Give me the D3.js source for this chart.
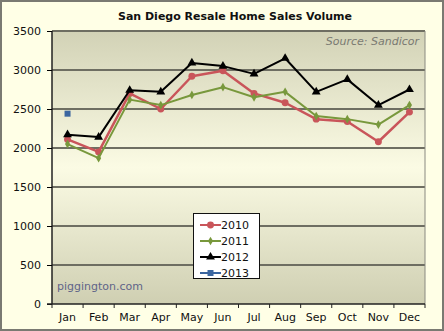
<!DOCTYPE html>
<html>
<head>
<meta charset="utf-8">
<script src="https://cdn.jsdelivr.net/npm/d3@7"></script>
<style>
  body { margin: 0; background: #fff; }
  text { font-family: "DejaVu Sans", Verdana, sans-serif; }
</style>
</head>
<body>
<svg width="444" height="331"></svg>
<script>
var months = ["Jan", "Feb", "Mar", "Apr", "May", "Jun", "Jul", "Aug", "Sep", "Oct", "Nov", "Dec"];
var years = ["2010", "2011", "2012", "2013"];
var sales2010 = [2110, 1950, 2700, 2500, 2920, 2990, 2700, 2580, 2370, 2340, 2080, 2460];
var sales2011 = [2050, 1870, 2620, 2550, 2680, 2780, 2650, 2720, 2410, 2370, 2300, 2550];
var sales2012 = [2170, 2140, 2740, 2720, 3090, 3050, 2950, 3150, 2720, 2880, 2550, 2750];
var sales2013 = [2440];
var yTicks = [0, 500, 1000, 1500, 2000, 2500, 3000, 3500];

var svg = d3.select("svg"),
    width = +svg.attr("width"),
    height = +svg.attr("height");

var margin = {top: 31, right: 19, bottom: 27, left: 52};

var x = d3.scaleBand().domain(months).range([margin.left, width - margin.right]);
var y = d3.scaleLinear().domain([0, 3500]).range([height - margin.bottom, margin.top]);

// outer frame
svg.append("rect")
    .attr("x", 1).attr("y", 1)
    .attr("width", width - 2).attr("height", height - 2)
    .attr("fill", "#ffffe6")
    .attr("stroke", "#7a7a72")
    .attr("stroke-width", 2);

var defs = svg.append("defs");
var grad = defs.append("linearGradient")
    .attr("id", "plotbg")
    .attr("x1", 0).attr("y1", 0).attr("x2", 0).attr("y2", 1);
grad.append("stop").attr("offset", "0%").attr("stop-color", "#d2d2b6");
grad.append("stop").attr("offset", "50%").attr("stop-color", "#fbfbe4");
grad.append("stop").attr("offset", "100%").attr("stop-color", "#cfcfb2");

svg.append("rect")
    .attr("x", margin.left).attr("y", margin.top)
    .attr("width", width - margin.left - margin.right)
    .attr("height", height - margin.top - margin.bottom)
    .attr("fill", "url(#plotbg)");

// gridlines
svg.append("g").selectAll("line")
    .data(yTicks.filter(function(d) { return d > 0; }))
    .enter().append("line")
    .attr("x1", margin.left).attr("x2", width - margin.right)
    .attr("y1", function(d) { return y(d); })
    .attr("y2", function(d) { return y(d); })
    .attr("stroke", "#6e6e62")
    .attr("stroke-width", 2);

// right border of plot
svg.append("line")
    .attr("x1", width - margin.right).attr("x2", width - margin.right)
    .attr("y1", margin.top).attr("y2", height - margin.bottom)
    .attr("stroke", "#8a8a80");

// axes
var yAxis = svg.append("g")
    .attr("transform", `translate(${margin.left},0)`)
    .call(d3.axisLeft(y).tickValues(yTicks).tickSize(5).tickPadding(6).tickFormat(d3.format("d")));

var xAxis = svg.append("g")
    .attr("transform", `translate(0,${height - margin.bottom})`)
    .call(d3.axisBottom(x).tickSize(0).tickPadding(9));

xAxis.selectAll(".tick line").remove();
xAxis.selectAll(".sep")
    .data(months.concat(["end"]))
    .enter().append("line")
    .attr("class", "sep")
    .attr("x1", function(d, i) { return margin.left + i * x.bandwidth(); })
    .attr("x2", function(d, i) { return margin.left + i * x.bandwidth(); })
    .attr("y1", 0).attr("y2", 4)
    .attr("stroke", "#222");

[yAxis, xAxis].forEach(function(a) {
    a.selectAll(".domain").attr("stroke", "#222").attr("stroke-width", 1.5);
    a.selectAll("text").attr("font-size", "11px").attr("fill", "#111")
        .style("font-family", "'DejaVu Sans', Verdana, sans-serif");
});
yAxis.select(".domain").attr("d", `M0,${margin.top}V${height - margin.bottom}`);
xAxis.select(".domain").attr("d", `M${margin.left - 5},0H${width - margin.right}`);

// title
svg.append("text")
    .attr("x", 235).attr("y", 20)
    .attr("text-anchor", "middle")
    .attr("font-size", "11px")
    .attr("font-weight", "bold")
    .attr("fill", "#111")
    .text("San Diego Resale Home Sales Volume");

svg.append("text")
    .attr("x", 419).attr("y", 45)
    .attr("text-anchor", "end")
    .attr("font-size", "11px")
    .attr("font-style", "italic")
    .attr("fill", "#7a7a72")
    .text("Source: Sandicor");

svg.append("text")
    .attr("x", 57).attr("y", 290)
    .attr("font-size", "11px")
    .attr("fill", "#5f6488")
    .text("piggington.com");

// series
var series = [
    {name: "2010", values: sales2010, color: "#c9555a", shape: "circle", size: 38, width: 2.5},
    {name: "2011", values: sales2011, color: "#78983c", shape: "diamond", size: 22, width: 2},
    {name: "2012", values: sales2012, color: "#000000", shape: "triangle", size: 34, width: 2},
    {name: "2013", values: sales2013, color: "#3b66a0", shape: "square", size: 36, width: 2}
];

function symbolType(s) {
    if (s === "circle") { return d3.symbolCircle; }
    if (s === "diamond") { return d3.symbolDiamond; }
    if (s === "triangle") { return d3.symbolTriangle; }
    return d3.symbolSquare;
}

var line = d3.line()
    .x(function(d, i) { return x(months[i]) + x.bandwidth() / 2; })
    .y(function(d) { return y(d); });

series.forEach(function(s) {
    var g = svg.append("g");
    g.append("path")
        .attr("d", line(s.values))
        .attr("fill", "none")
        .attr("stroke", s.color)
        .attr("stroke-width", s.width)
        .attr("stroke-linejoin", "round");
    g.selectAll("path.pt")
        .data(s.values)
        .enter().append("path")
        .attr("class", "pt")
        .attr("transform", function(d, i) {
            return `translate(${x(months[i]) + x.bandwidth() / 2},${y(d)})`;
        })
        .attr("d", d3.symbol().type(symbolType(s.shape)).size(s.size))
        .attr("fill", s.color);
});

// legend
var lg = svg.append("g").attr("transform", "translate(193,213)");
lg.append("rect")
    .attr("x", 0.5).attr("y", 0.5)
    .attr("width", 66).attr("height", 65)
    .attr("fill", "#ffffff")
    .attr("stroke", "#111");
series.forEach(function(s, i) {
    var row = lg.append("g").attr("transform", `translate(0,${12 + i * 16})`);
    row.append("line")
        .attr("x1", 7).attr("x2", 28)
        .attr("stroke", s.color).attr("stroke-width", 2);
    row.append("path")
        .attr("transform", "translate(17.5,0)")
        .attr("d", d3.symbol().type(symbolType(s.shape)).size(s.size))
        .attr("fill", s.color);
    row.append("text")
        .attr("x", 28).attr("y", 4)
        .attr("font-size", "11px")
        .attr("fill", "#111")
        .text(s.name);
});
</script>
</body>
</html>
